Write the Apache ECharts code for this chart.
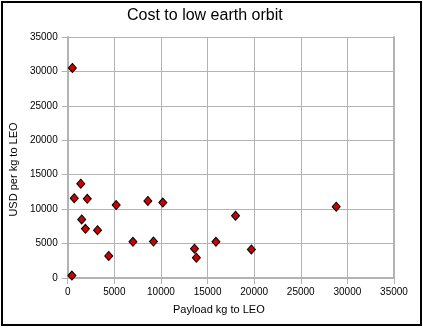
<!DOCTYPE html>
<html>
<head>
<meta charset="utf-8">
<script src="https://cdn.jsdelivr.net/npm/echarts@6/dist/echarts.min.js"></script>
<style>
html,body{margin:0;padding:0;background:#fff;}
#chart{width:423px;height:328px;}
</style>
</head>
<body>
<div id="chart"></div>
<script>
var titleText = 'Cost to low earth orbit';
var xAxisName = 'Payload kg to LEO';
var yAxisName = 'USD per kg to LEO';
var payloadKg = [500, 1400, 700, 2100, 1500, 1900, 3200, 4400, 450, 5200, 7000, 8600, 9200, 10200, 13600, 13800, 15900, 18000, 19700, 28800];
var usdPerKg = [30500, 13700, 11600, 11500, 8500, 7150, 6950, 3200, 360, 10600, 5250, 11200, 5300, 10950, 4250, 2950, 5250, 9050, 4150, 10350];

var points = payloadKg.map(function (x, i) { return [x, usdPerKg[i]]; });

var chart = echarts.init(document.getElementById('chart'), null, {renderer: 'canvas'});
var font = '"Liberation Sans", Arial, sans-serif';
var gridColor = '#b3b3b3';
var plain = function (v) { return String(v); };
chart.setOption({
  animation: false,
  backgroundColor: '#ffffff',
  textStyle: {fontFamily: font},
  title: {
    text: titleText,
    left: 127,
    top: 8,
    padding: 0,
    textStyle: {fontFamily: font, fontSize: 16, fontWeight: 'normal', color: '#000'}
  },
  grid: {left: 66, top: 37, width: 328, height: 241, containLabel: false},
  xAxis: {
    type: 'value',
    min: 0, max: 35000, interval: 5000,
    name: xAxisName,
    nameLocation: 'middle',
    nameGap: 26,
    nameTextStyle: {fontFamily: font, fontSize: 11, color: '#000', padding: [0, 24, 0, 0]},
    axisLine: {show: true, lineStyle: {color: gridColor, width: 2}},
    axisTick: {show: true, length: 6, lineStyle: {color: gridColor, width: 1}},
    axisLabel: {fontFamily: font, fontSize: 10, color: '#000', margin: 9, formatter: plain},
    splitLine: {show: true, lineStyle: {color: gridColor, width: 1}}
  },
  yAxis: [{
    type: 'value',
    min: 0, max: 35000, interval: 5000,
    name: yAxisName,
    nameLocation: 'middle',
    nameGap: 46,
    nameTextStyle: {fontFamily: font, fontSize: 11, color: '#000', padding: [0, 24, 0, 0]},
    axisLine: {show: true, lineStyle: {color: gridColor, width: 2}},
    axisTick: {show: true, length: 6, lineStyle: {color: gridColor, width: 1}},
    axisLabel: {fontFamily: font, fontSize: 10, color: '#000', margin: 10, formatter: plain},
    splitLine: {show: true, lineStyle: {color: gridColor, width: 1}}
  }, {
    type: 'value',
    position: 'right',
    min: 0, max: 35000, interval: 5000,
    axisLine: {show: true, lineStyle: {color: gridColor, width: 2}},
    axisTick: {show: false},
    axisLabel: {show: false},
    splitLine: {show: false}
  }],
  graphic: [{
    type: 'rect',
    shape: {x: 2, y: 2, width: 419, height: 323},
    style: {fill: 'none', stroke: '#000', lineWidth: 2},
    silent: true
  }],
  series: [{
    type: 'scatter',
    data: points,
    symbol: 'diamond',
    symbolSize: [8, 9],
    itemStyle: {color: '#cc0000', borderColor: '#000', borderWidth: 1, opacity: 1}
  }]
});
</script>
</body>
</html>
